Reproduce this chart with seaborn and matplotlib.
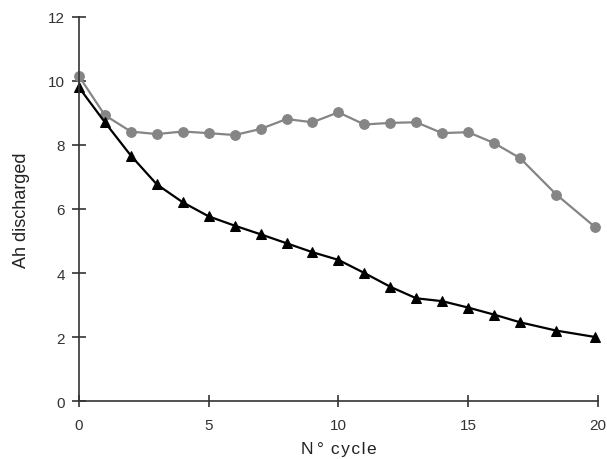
import matplotlib
matplotlib.use("Agg")
import matplotlib.pyplot as plt
import pandas as pd
import seaborn as sns

# cycle numbers
cycles = [0, 1, 2, 3, 4, 5, 6, 7, 8, 9, 10, 11, 12, 13, 14, 15, 16, 17, 18.4, 19.9]
# upper (grey, circles) series
ah_grey = [10.15, 8.93, 8.42, 8.34, 8.42, 8.37, 8.31, 8.50, 8.81, 8.71,
           9.02, 8.64, 8.69, 8.71, 8.37, 8.40, 8.06, 7.59, 6.45, 5.43]
# lower (black, triangles) series
ah_black = [9.80, 8.71, 7.67, 6.77, 6.21, 5.77, 5.48, 5.21, 4.93, 4.65,
            4.41, 4.00, 3.57, 3.21, 3.12, 2.92, 2.70, 2.46, 2.20, 2.00]

x_ticks = [0, 5, 10, 15, 20]
y_ticks = [0, 2, 4, 6, 8, 10, 12]

df = pd.DataFrame({"cycle": cycles, "grey": ah_grey, "black": ah_black})

sns.set_style("ticks")
plt.rcParams["font.family"] = ["Liberation Sans", "DejaVu Sans"]

fig = plt.figure(figsize=(6.07, 4.6), dpi=100)
ax = fig.add_axes([0.130, 0.126, 0.855, 0.835])

sns.lineplot(data=df, x="cycle", y="grey", ax=ax, color="#858585",
             marker="o", markersize=7, markeredgecolor="#858585",
             linewidth=1.6, clip_on=False)
sns.lineplot(data=df, x="cycle", y="black", ax=ax, color="black",
             marker="^", markersize=7, markeredgecolor="black",
             linewidth=1.6, clip_on=False)

ax.set_xlim(0, 20)
ax.set_ylim(0, 12)
ax.set_xticks(x_ticks)
ax.set_yticks(y_ticks)
sns.despine(ax=ax)
for side in ("left", "bottom"):
    ax.spines[side].set_color("#333333")
    ax.spines[side].set_linewidth(1.2)
ax.tick_params(axis="y", direction="inout", length=10, width=1.2,
               color="#333333", labelsize=11, labelcolor="#333333", pad=5)
ax.tick_params(axis="x", direction="inout", length=8, width=1.2,
               color="#333333", labelsize=11, labelcolor="#333333", pad=8)

ax.set_xlabel("N\u2009°\u2009\u2009c\u200ay\u200ac\u200al\u200ae", fontsize=12.5,
              color="#222222", labelpad=7)
ax.set_ylabel("Ah discharged", fontsize=13, color="#222222", labelpad=13)

fig.savefig("out.png", dpi=100)
